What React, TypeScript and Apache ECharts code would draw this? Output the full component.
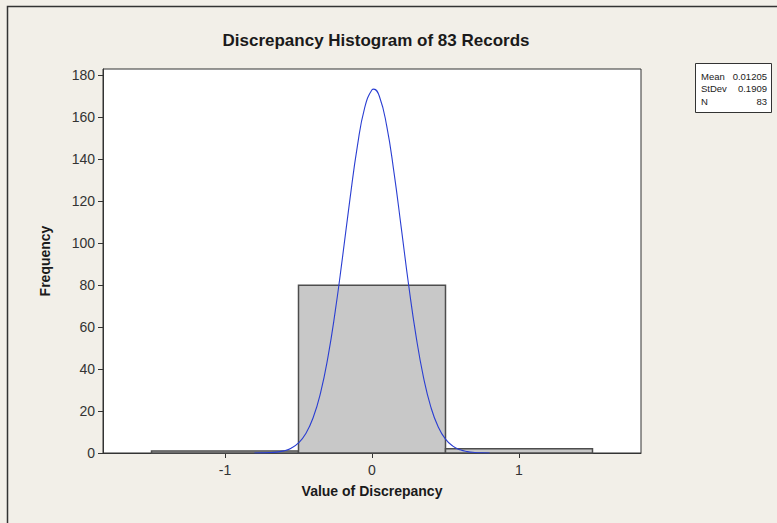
import React, { useEffect, useRef } from "react";
import * as echarts from "echarts";

const TITLE = "Discrepancy Histogram of 83 Records";
const X_NAME = "Value of Discrepancy";
const Y_NAME = "Frequency";

const BIN_START = [-1.5, -0.5, 0.5];
const BIN_END = [-0.5, 0.5, 1.5];
const COUNTS = [1, 80, 2];

const X_TICKS = [-1, 0, 1];
const Y_TICKS = [0, 20, 40, 60, 80, 100, 120, 140, 160, 180];

const CURVE_X = [-0.8, -0.75, -0.7, -0.65, -0.6, -0.55, -0.5, -0.45, -0.4, -0.35, -0.3, -0.25, -0.2, -0.15, -0.1, -0.05, 0, 0.012, 0.05, 0.1, 0.15, 0.2, 0.25, 0.3, 0.35, 0.4, 0.45, 0.5, 0.55, 0.6, 0.65, 0.7, 0.75, 0.8];
const CURVE_Y = [0.02, 0.06, 0.17, 0.42, 1.0, 2.3, 4.8, 9.3, 16.9, 28.7, 45.6, 67.6, 93.6, 121, 146, 164.5, 173.1, 173.4, 170, 155.9, 133.5, 106.8, 79.7, 55.6, 36.2, 22.0, 12.5, 6.6, 3.3, 1.5, 0.65, 0.26, 0.09, 0.03];

const STAT_LABELS = ["Mean", "StDev", "N"];
const STAT_VALUES = ["0.01205", "0.1909", "83"];

const FONT = "'Liberation Sans', Arial, sans-serif";

export default function App() {
  const ref = useRef<HTMLDivElement>(null);
  useEffect(() => {
    document.body.style.margin = "0";
    const chart = echarts.init(ref.current!, null, { renderer: "svg" });
    const histData = BIN_START.map((s, i) => [s, BIN_END[i], COUNTS[i]]);
    const curveData = CURVE_X.map((x, i) => [x, CURVE_Y[i]]);
    const boxX = 695, boxY = 63, boxW = 76, rowH = 12.5;
    const statGraphics: any[] = [
      {
        type: "rect",
        shape: { x: boxX + 0.5, y: boxY + 0.5, width: boxW, height: 49 },
        style: { fill: "#ffffff", stroke: "#333333", lineWidth: 1 },
      },
    ];
    STAT_LABELS.forEach((l, i) => {
      statGraphics.push({
        type: "text",
        x: boxX + 6,
        y: boxY + 13 + i * rowH,
        style: { text: l, font: `9.5px ${FONT}`, fill: "#222", textAlign: "left", textVerticalAlign: "middle" },
      });
      statGraphics.push({
        type: "text",
        x: boxX + boxW - 4,
        y: boxY + 13 + i * rowH,
        style: { text: STAT_VALUES[i], font: `9.5px ${FONT}`, fill: "#222", textAlign: "right", textVerticalAlign: "middle" },
      });
    });
    chart.setOption({
      animation: false,
      backgroundColor: "#f2efe8",
      title: {
        text: TITLE,
        left: 371,
        textAlign: "center",
        top: 27,
        textStyle: { fontFamily: FONT, fontWeight: "bold", fontSize: 17, color: "#1a1a1a" },
      },
      grid: {
        left: 103,
        right: 136,
        top: 69,
        bottom: 70,
        show: true,
        backgroundColor: "#ffffff",
        borderColor: "#333333",
        borderWidth: 1,
      },
      xAxis: {
        type: "value",
        min: -1.83,
        max: 1.83,
        name: X_NAME,
        nameLocation: "middle",
        nameGap: 31,
        nameTextStyle: { fontFamily: FONT, fontWeight: "bold", fontSize: 14, color: "#1a1a1a" },
        axisLine: { show: true, onZero: false, lineStyle: { color: "#333" } },
        axisTick: { show: true, length: 5, lineStyle: { color: "#333" }, customValues: X_TICKS },
        axisLabel: { fontFamily: FONT, fontSize: 14, color: "#333", margin: 10, customValues: X_TICKS },
        splitLine: { show: false },
      },
      yAxis: {
        type: "value",
        min: 0,
        max: 183,
        name: Y_NAME,
        nameLocation: "middle",
        nameGap: 51,
        nameTextStyle: { fontFamily: FONT, fontWeight: "bold", fontSize: 14, color: "#1a1a1a" },
        axisLine: { show: true, onZero: false, lineStyle: { color: "#333" } },
        axisTick: { show: true, length: 5, lineStyle: { color: "#333" }, customValues: Y_TICKS },
        axisLabel: { fontFamily: FONT, fontSize: 14, color: "#333", margin: 8, customValues: Y_TICKS },
        splitLine: { show: false },
      },
      series: [
        {
          type: "custom",
          data: histData,
          encode: { x: [0, 1], y: 2 },
          z: 1,
          renderItem: (params: any, api: any) => {
            const s = api.coord([api.value(0), api.value(2)]);
            const e = api.coord([api.value(1), 0]);
            return {
              type: "rect",
              shape: { x: s[0], y: s[1], width: e[0] - s[0], height: e[1] - s[1] },
              style: { fill: "#c8c8c8", stroke: "#4d4d4d", lineWidth: 1.5 },
            };
          },
        },
        {
          type: "line",
          data: curveData,
          smooth: true,
          symbol: "none",
          z: 3,
          lineStyle: { color: "#2a3ed2", width: 1.1 },
        },
      ],
      graphic: [
        {
          type: "rect",
          shape: { x: 7.5, y: 6.5, width: 900, height: 700 },
          style: { fill: "none", stroke: "#333333", lineWidth: 1.5 },
          silent: true,
        },
        ...statGraphics,
      ],
    });
    return () => chart.dispose();
  }, []);
  return <div ref={ref} style={{ position: "fixed", left: 0, top: 0, width: 777, height: 523 }} />;
}
